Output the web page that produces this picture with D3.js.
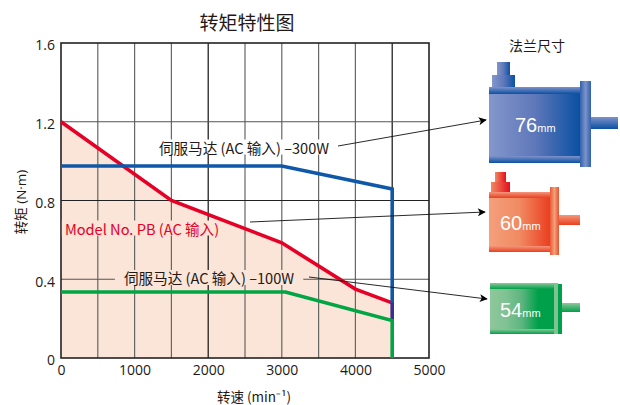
<!DOCTYPE html>
<html>
<head>
<meta charset="utf-8">
<script src="https://cdn.jsdelivr.net/npm/d3@7"></script>
<style>
  html, body { margin: 0; padding: 0; background: #fff; }
  text { font-family: "Noto Sans CJK SC", "Open Sans", sans-serif; fill: #231815; }
</style>
</head>
<body>
<svg id="chart"></svg>
<script>
// values
const speedTicks = [0, 1000, 2000, 3000, 4000, 5000];
const speedGrid = [500, 1000, 1500, 2000, 2500, 3000, 3500, 4000, 4500];
const torqueTicks = [0, 0.4, 0.8, 1.2, 1.6];

const pbSpeed = [0, 1500, 3000, 4000, 4500];
const pbTorque = [1.2, 0.8, 0.585, 0.35, 0.28];
const w300Speed = [0, 3000, 4500, 4500];
const w300Torque = [0.975, 0.975, 0.858, 0.28];
const overlapSpeed = [4500, 4500];
const overlapTorque = [0.28, 0.19];
const w100Speed = [0, 3050, 4500, 4500];
const w100Torque = [0.335, 0.335, 0.19, 0];

const width = 620, height = 405;
const margin = { top: 43, right: 191, bottom: 47, left: 61 };
const peach = "#fbe4d8";

const svg = d3.select("#chart").attr("width", width).attr("height", height);

const x = d3.scaleLinear().domain([0, 5000]).range([margin.left, width - margin.right]);
const y = d3.scaleLinear().domain([0, 1.6]).range([height - margin.bottom, margin.top]);

const defs = svg.append("defs");

function gradient(id, stops, vertical) {
  const g = defs.append("linearGradient").attr("id", id)
    .attr("x1", 0).attr("y1", 0)
    .attr("x2", vertical ? 0 : 1).attr("y2", vertical ? 1 : 0);
  stops.forEach((c, i) => {
    g.append("stop").attr("offset", i / (stops.length - 1)).attr("stop-color", c);
  });
}

defs.append("marker").attr("id", "arrow")
  .attr("viewBox", "0 0 10 10").attr("refX", 9).attr("refY", 5)
  .attr("markerWidth", 10).attr("markerHeight", 8)
  .attr("markerUnits", "userSpaceOnUse").attr("orient", "auto")
  .append("path").attr("d", "M0,0L10,5L0,10L2.5,5Z").attr("fill", "#000");

// area under the PB curve
const pbPoints = pbSpeed.map((s, i) => [s, pbTorque[i]]);
const area = d3.area().x(d => x(d[0])).y0(y(0)).y1(d => y(d[1]));
svg.append("path").datum(pbPoints).attr("d", area).attr("fill", peach);

// grid
svg.append("g").selectAll("line").data(speedGrid).enter().append("line")
  .attr("x1", d => x(d)).attr("x2", d => x(d))
  .attr("y1", y(1.6)).attr("y2", y(0))
  .attr("stroke", d => d === 2000 || d === 4500 ? "#111" : "#666")
  .attr("stroke-width", 1.2);
svg.append("g").selectAll("line").data(torqueTicks.slice(1, 4)).enter().append("line")
  .attr("x1", x(0)).attr("x2", x(5000))
  .attr("y1", d => y(d)).attr("y2", d => y(d))
  .attr("stroke", d => d === 0.8 ? "#222" : "#555")
  .attr("stroke-width", 1);

// axes, ticks hidden, frame drawn separately
const xAxis = svg.append("g")
  .attr("transform", `translate(0,${y(0)})`)
  .call(d3.axisBottom(x).tickValues(speedTicks).tickSize(0).tickPadding(7).tickFormat(d3.format("d")));
const yAxis = svg.append("g")
  .attr("transform", `translate(${x(0)},2.5)`)
  .call(d3.axisLeft(y).tickValues(torqueTicks).tickSize(0).tickPadding(6).tickFormat(d => d === 0 ? "0" : d3.format(".1f")(d)));
xAxis.selectAll("text").style("font-size", "14px").style("font-family", "'Open Sans', sans-serif");
yAxis.selectAll("text").style("font-size", "14px").style("font-family", "'Open Sans', sans-serif");
svg.selectAll(".domain").remove();
svg.append("rect")
  .attr("x", x(0)).attr("y", y(1.6))
  .attr("width", x(5000) - x(0)).attr("height", y(0) - y(1.6))
  .attr("fill", "none").attr("stroke", "#222").attr("stroke-width", 1.6);

// labels sit on a patch that cuts the grid
function label(str, cx, cy, size, bg, color, pad) {
  const t = svg.append("text").attr("x", cx).attr("y", cy)
    .attr("text-anchor", "middle").attr("dominant-baseline", "central")
    .style("font-size", size + "px").text(str);
  if (color) t.style("fill", color);
  if (bg) {
    const b = t.node().getBBox();
    const p = pad || 3;
    svg.insert("rect", () => t.node()).attr("x", b.x - p).attr("y", b.y + 3)
      .attr("width", b.width + 2 * p).attr("height", b.height - 6).attr("fill", bg);
  }
  return t;
}

// series
const line = d3.line().x(d => x(d[0])).y(d => y(d[1]));
function series(sx, sy, color) {
  svg.append("path").datum(sx.map((s, i) => [s, sy[i]])).attr("d", line)
    .attr("fill", "none").attr("stroke", color).attr("stroke-width", 3.6)
    .attr("stroke-linejoin", "miter");
}
label("伺服马达 (AC 输入) –300W", 244, 147, 14.6, "#fff");
label("Model No. PB (AC 输入)", 142, 228, 14.6, peach, "#e60026");
label("伺服马达 (AC 输入) –100W", 209, 277.5, 14.6, peach, null, 9);

series(pbSpeed, pbTorque, "#e60026");
series(w300Speed, w300Torque, "#0f57a8");
series(overlapSpeed, overlapTorque, "#3a2f8f");
series(w100Speed, w100Torque, "#00a544");

// leader lines
[[338, 146, 486, 120], [250, 222, 485, 212], [309, 277, 487, 299]].forEach(l => {
  svg.append("line").attr("x1", l[0]).attr("y1", l[1]).attr("x2", l[2]).attr("y2", l[3])
    .attr("stroke", "#111").attr("stroke-width", 0.9).attr("marker-end", "url(#arrow)");
});

// titles
label("转矩特性图", 247, 21, 19);
label("转速 (min⁻¹)", 254, 395.5, 13.5);
label("转矩 (N·m)", 21, 202, 13.5)
  .style("font-family", "'Open Sans', 'Noto Sans CJK SC', sans-serif")
  .attr("transform", "rotate(-90,21,202)");
label("法兰尺寸", 537, 45, 14);

// motor pictures
gradient("blueBody", ["#8497cc", "#5f78ba", "#0a50a2"]);
gradient("blueV", ["#7f92ca", "#0a50a2"], true);
gradient("blueH", ["#2f62ad", "#7d91c8", "#2f62ad"]);
gradient("redBody", ["#f4a07c", "#f08a62", "#ea3f20"]);
gradient("redV", ["#f4967a", "#ea3f20"], true);
gradient("redH", ["#ea5a34", "#f4a07c", "#e8502c"]);
gradient("redTop", ["#f08a62", "#e60f1c"]);
gradient("greenBody", ["#8ec79a", "#80c294", "#5cb47e", "#00a04a", "#00a04a"]);
gradient("greenV", ["#8ec79a", "#00a04a"], true);

function box(x0, y0, x1, y1, fill) {
  svg.append("rect").attr("x", x0).attr("y", y0)
    .attr("width", x1 - x0).attr("height", y1 - y0).attr("fill", fill);
}

// blue 76
box(497, 62, 510, 75, "url(#blueBody)");
box(492, 75, 515, 87, "url(#blueBody)");
box(489, 87, 580, 163, "url(#blueBody)");
box(489, 87, 580, 94, "url(#blueV)");
box(489, 156, 580, 163, "url(#blueV)");
box(580, 81, 591, 167, "url(#blueH)");
box(591, 117, 618, 129, "url(#blueV)");

// red 60
box(495, 172, 506, 182, "url(#redTop)");
box(491, 182, 510, 192, "url(#redTop)");
box(489, 192, 550, 252, "url(#redBody)");
box(489, 192, 550, 198, "url(#redV)");
box(489, 246, 550, 252, "url(#redV)");
box(550, 187, 559, 255, "url(#redH)");
box(559, 215, 580, 225, "url(#redV)");

// green 54
box(490, 283, 554, 334, "url(#greenBody)");
box(490, 283, 554, 289, "url(#greenV)");
box(490, 329, 554, 334, "url(#greenV)");
box(554, 283, 558, 334, "#7fc393");
box(558, 284, 562, 334, "#00a04a");
box(562, 303, 580, 312, "url(#greenV)");

function motorText(big, tx, ty) {
  const t = svg.append("text").attr("x", tx).attr("y", ty)
    .style("font-family", "'Liberation Sans', sans-serif").style("fill", "#fff");
  t.append("tspan").style("font-size", "20px").style("fill", "#fff").text(big);
  t.append("tspan").style("font-size", "11px").style("fill", "#fff").text("mm");
}
motorText("76", 515, 132);
motorText("60", 500, 230);
motorText("54", 500, 317);
</script>
</body>
</html>
